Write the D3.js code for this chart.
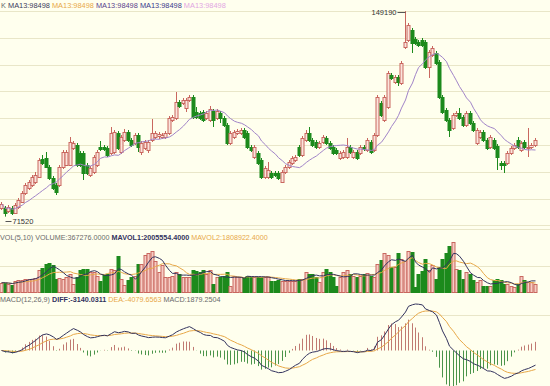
<!DOCTYPE html>
<html>
<head>
<meta charset="utf-8">
<script src="https://cdn.jsdelivr.net/npm/d3@7"></script>
<style>
body{margin:0;background:#ffffee;}
svg{display:block;font-family:"Liberation Sans",Arial,sans-serif;}
</style>
</head>
<body>
<div id="container"></div>
<script>
// price candles
const opens = [74780,74780,73640,74780,72890,75150,77040,80450,82340,83470,
 84600,86490,93300,93680,90270,86120,83470,83470,90270,91030,
 91030,97460,98590,95570,95570,91030,87250,88380,91030,97830,
 97830,97460,95570,95940,103130,95940,100480,103500,100480,99350,
 102370,95940,97460,96700,100480,101610,101990,101610,101610,103130,
 108040,108800,114840,114470,112580,115600,116730,111060,110690,111060,
 108800,108040,111440,108800,110690,108800,106150,99350,101610,103130,
 103130,104260,103130,97830,94050,95570,92920,86490,86490,88010,
 88010,88010,84600,88380,90270,91790,92920,97830,94810,100480,
 103130,100480,99720,97830,99720,101240,99350,97830,96700,93680,
 94050,94050,97830,94050,95940,95570,97830,96700,99720,96700,
 102370,114470,108040,112950,125050,122400,124290,122030,135630,138280,
 142060,138660,137520,138280,137520,128070,132610,133370,129960,116730,
 111820,108040,105020,109930,110690,109170,106150,110690,106910,99350,
 101610,103500,100480,97830,100480,98210,91790,91790,91790,95570,
 97460,100480,96700,99720,97460,97830,98590];
const highs = [77040,75530,75910,75530,76670,78560,81200,84230,85360,87250,
 88380,93680,94810,95940,91030,86870,84230,91030,96700,96700,
 101610,100100,99350,96320,96320,91790,90650,94810,96700,100100,
 98590,98210,105390,104260,103880,102370,104640,104260,101240,103130,
 103130,100100,100480,100480,108420,103880,103500,103130,103880,109550,
 109930,118620,115600,116360,116360,117490,117490,112950,111440,111820,
 111440,113330,112200,112200,111440,109550,106910,103880,104260,104640,
 105020,105020,103880,98590,98590,96320,93680,90650,92160,88760,
 88760,88760,89140,91030,92920,94430,94810,98590,101990,104260,
 105390,101240,100480,100100,102370,101990,100100,98590,97460,96320,
 96700,101240,98590,96700,96700,98590,98590,101240,100480,103130,
 117490,115220,117490,126560,125810,125050,125050,130340,149190,144710,
 142820,139410,138280,139040,138280,134500,136010,134120,130720,117490,
 112580,108800,110690,111440,112580,109930,111440,111440,107660,105020,
 104260,104260,101240,102370,101240,98970,92540,92540,96320,98210,
 99350,101610,100100,100480,105020,99350,101240];
const lows = [74020,71520,72890,72130,72510,74400,76670,79690,81580,82710,
 83850,86120,91030,89900,85360,81580,79690,82710,89520,90650,
 90650,96700,90270,90270,85360,87250,86490,87630,90270,96320,
 96320,94050,94810,95190,96700,95190,99720,99720,97830,98590,
 95940,94810,96700,95570,99720,100860,100860,100860,100860,102370,
 107280,108040,112580,113710,111060,114840,108420,108420,108040,107280,
 108040,107280,105390,108040,106910,105390,98590,98590,100860,102370,
 102370,100860,97080,95940,93300,91030,85740,85740,85740,85740,
 86490,85360,84230,87630,89520,91030,92160,94050,94050,99720,
 99720,97830,97080,97080,98970,98590,96700,94810,94810,92920,
 93300,93300,95190,93300,92920,94810,96320,95940,95190,95940,
 101610,109170,107280,112200,123160,121650,120890,121270,134880,137520,
 133370,136390,135630,135630,127320,123920,131850,128830,115980,110310,
 107280,101610,104260,109170,108040,105390,105390,106150,103500,98590,
 100860,99720,96700,97080,96700,89140,89140,88010,91030,94810,
 96700,97080,95940,97080,94050,97080,97830];
const closes = [76290,72890,75150,72890,75910,77800,80450,83470,84600,86490,
 87250,92920,91790,90270,86120,82340,80820,90270,95940,95940,
 99720,99350,91030,91030,88010,88010,89900,94050,95940,97080,
 97080,94810,103130,103500,97460,101610,103500,100480,98590,102370,
 97830,99350,99720,99720,103130,103130,102750,102370,103130,108800,
 109170,114840,113330,115600,115600,116730,109170,109170,108800,108040,
 110690,112200,108040,111440,108800,106150,99350,103130,103500,103880,
 104260,101610,97830,96700,97830,91790,86490,89900,89140,86490,
 87250,86120,88380,90270,92160,93680,94050,94810,101240,103130,
 100480,98590,97830,99350,101610,99350,97460,95570,95570,95570,
 95940,97830,95940,95940,93680,97830,97080,100480,95940,102370,
 116730,109930,116730,125810,123920,124290,122400,129590,137520,143950,
 137150,137150,136390,136390,128070,133740,135260,129590,116730,111060,
 108040,104260,109930,110690,108800,106150,110690,106910,104260,104260,
 103500,100480,97460,101610,97460,94050,91030,91030,95570,97460,
 98590,97830,99350,97830,97830,98590,100480];
// volume, millions of shares
const volumes = [1.8,1.8,1.6,1.4,2.2,2.4,2.3,2.5,2.6,2.6,
 2.8,4.2,4.6,5.4,5.6,5.2,2.6,2.8,2.5,3.0,
 3.5,1.6,3.0,4.2,4.5,4.4,3.8,3.8,3.2,2.2,
 3.3,3.5,4.5,4.2,7.0,2.6,1.3,2.4,3.0,3.2,
 5.5,5.5,7.2,7.5,8.0,6.0,3.9,5.2,2.9,2.9,
 3.2,3.9,3.5,2.9,2.9,2.9,4.2,4.0,3.9,4.2,
 3.5,4.2,1.5,2.9,2.9,3.2,3.9,1.2,3.2,3.0,
 2.9,3.0,3.2,2.9,2.9,2.9,3.0,2.9,2.9,2.2,
 2.2,2.3,2.2,2.2,2.2,2.1,2.2,2.5,2.6,3.9,
 3.5,3.5,2.9,1.9,3.9,4.5,3.9,2.9,1.2,2.9,
 3.8,4.2,3.5,3.2,2.9,3.2,3.5,3.6,3.2,3.0,
 5.5,6.2,7.5,7.2,4.9,4.9,7.5,6.5,6.0,8.0,
 7.7,1.0,3.5,4.0,6.5,4.2,5.2,2.5,4.9,6.5,
 7.5,8.9,9.7,4.5,4.2,2.5,3.9,3.5,2.3,1.9,
 2.3,1.2,1.2,1.2,2.3,2.5,2.3,1.5,1.5,1.2,
 0.9,1.5,3.2,2.3,1.9,1.9,1.5];

const maLabels = ["MA13:98498","MA13:98498","MA13:98498","MA13:98498","MA13:98498"];
const maColors = ["#3b3b5c","#e8a848","#5b3f8c","#3a3a8c","#e2a6e2"];
const volLabels = ["VOL(5,10) ","VOLUME:367276.0000 ","MAVOL1:2005554.4000 ","MAVOL2:1808922.4000"];
const macdLabels = ["MACD(12,26,9) ","DIFF:-3140.0311 ","DEA:-4079.6563 ","MACD:1879.2504"];
const maxLabel = "149190", minLabel = "71520";

const W = 550, H = 386;
const RED = "#c9675f", RED_FILL = "#fbe4dc", VOL_FILL = "#f6cdc4", GREEN = "#1c8a1c";
const NAVY = "#33335e", ORANGE = "#e8a848", GRAY = "#6a6a6a";

const svg = d3.select("#container").append("svg")
    .attr("width", W)
    .attr("height", H);
svg.append("rect").attr("width", W).attr("height", H).attr("fill", "#ffffee");

const n = closes.length;
const idx = d3.range(n);
const x = d3.scaleBand().domain(idx).range([0, 536]).paddingInner(0.25);
const cx = i => Math.round(x(i) + x.bandwidth() / 2) + 0.5;
const bw = Math.max(2, Math.round(x.bandwidth()));
const up = i => closes[i] >= opens[i];

const yPrice = d3.scaleLinear().domain([67972, 153400]).range([226, 0]);
const yVol = d3.scaleLinear().domain([0, 10]).range([292, 240.5]);

// grid lines
const grid = svg.append("g").attr("stroke", "#e9e6c8").attr("stroke-width", 1);
d3.range(9).forEach(k => {
    const gy = Math.round(11 + k * 26.8) + 0.5;
    grid.append("line").attr("x1", 0).attr("x2", W).attr("y1", gy).attr("y2", gy);
});
[229.5, 266.5, 315.5].forEach(gy => {
    grid.append("line").attr("x1", 0).attr("x2", W).attr("y1", gy).attr("y2", gy);
});

// candles
const gc = svg.append("g");
gc.selectAll("line").data(idx).join("line")
    .attr("x1", cx).attr("x2", cx)
    .attr("y1", i => yPrice(highs[i]))
    .attr("y2", i => yPrice(lows[i]))
    .attr("stroke", i => up(i) ? RED : GREEN);
gc.selectAll("rect").data(idx).join("rect")
    .attr("x", i => cx(i) - bw / 2)
    .attr("width", bw)
    .attr("y", i => Math.round(yPrice(Math.max(opens[i], closes[i]))) + 0.5)
    .attr("height", i => Math.max(1, Math.round(Math.abs(yPrice(opens[i]) - yPrice(closes[i])))))
    .attr("fill", i => up(i) ? RED_FILL : GREEN)
    .attr("stroke", i => up(i) ? RED : GREEN);

// moving averages
const sma = (arr, p) => arr.map((v, i) => d3.mean(arr.slice(Math.max(0, i - p + 1), i + 1)));
const ma13 = sma(closes, 13);
svg.append("path")
    .attr("d", d3.line().x((d, i) => cx(i)).y(d => yPrice(d))(ma13))
    .attr("fill", "none").attr("stroke", "#a184c8").attr("stroke-width", 1);

// high / low markers
const iMax = d3.maxIndex(highs), iMin = d3.minIndex(lows);
const yMax = Math.round(yPrice(highs[iMax])) + 1.5;
svg.append("line").attr("x1", cx(iMax) - 8).attr("x2", cx(iMax)).attr("y1", yMax).attr("y2", yMax).attr("stroke", "#555");
svg.append("text").attr("x", cx(iMax) - 9).attr("y", yMax + 2.5).attr("text-anchor", "end")
    .attr("font-size", 7.5).attr("fill", "#333").text(maxLabel);
const yMin = Math.round(yPrice(lows[iMin])) + 4.5;
svg.append("line").attr("x1", cx(iMin)).attr("x2", cx(iMin) + 6).attr("y1", yMin).attr("y2", yMin).attr("stroke", "#555");
svg.append("text").attr("x", cx(iMin) + 7).attr("y", yMin + 2.5)
    .attr("font-size", 7.5).attr("fill", "#333").text(minLabel);

// volume
const gv = svg.append("g");
gv.selectAll("rect").data(idx).join("rect")
    .attr("x", i => cx(i) - bw / 2)
    .attr("width", bw)
    .attr("y", i => Math.round(yVol(volumes[i])) + 0.5)
    .attr("height", i => 292 - Math.round(yVol(volumes[i])))
    .attr("fill", i => up(i) ? VOL_FILL : GREEN)
    .attr("stroke", i => up(i) ? RED : GREEN);
const mavol5 = sma(volumes, 5), mavol10 = sma(volumes, 10);
const volLine = d3.line().x((d, i) => cx(i)).y(d => yVol(d));
svg.append("path").attr("d", volLine(mavol10)).attr("fill", "none").attr("stroke", ORANGE).attr("stroke-width", 1);
svg.append("path").attr("d", volLine(mavol5)).attr("fill", "none").attr("stroke", NAVY).attr("stroke-width", 1);

// MACD
function ema(arr, p) {
    const k = 2 / (p + 1);
    let e = arr[0];
    return arr.map((v, i) => i === 0 ? e : (e = v * k + e * (1 - k)));
}
const e12 = ema(closes, 12), e26 = ema(closes, 26);
const diff = closes.map((c, i) => e12[i] - e26[i]);
const dea = ema(diff, 9);
const hist = diff.map((d, i) => 2 * (d - dea[i]));
const yMacd = d3.scaleLinear().domain([0, d3.max(diff)]).range([350.5, 304]);

svg.append("clipPath").attr("id", "macdClip")
    .append("rect").attr("x", 0).attr("y", 303).attr("width", W).attr("height", H - 303);
const gm = svg.append("g").attr("clip-path", "url(#macdClip)");
gm.selectAll("line").data(idx).join("line")
    .attr("x1", cx).attr("x2", cx)
    .attr("y1", yMacd(0))
    .attr("y2", i => yMacd(hist[i]))
    .attr("stroke", i => hist[i] >= 0 ? "#c07a72" : "#4a944a");
const macdLine = d3.line().x((d, i) => cx(i)).y(d => yMacd(d));
gm.append("path").attr("d", macdLine(dea)).attr("fill", "none").attr("stroke", ORANGE).attr("stroke-width", 1);
gm.append("path").attr("d", macdLine(diff)).attr("fill", "none").attr("stroke", NAVY).attr("stroke-width", 1);

// legends
const topText = svg.append("text").attr("x", 1).attr("y", 8).attr("font-size", 7.4);
topText.append("tspan").attr("fill", GRAY).text("K ");
maLabels.forEach((t, k) => topText.append("tspan").attr("fill", maColors[k]).text(t + " "));

const volText = svg.append("text").attr("x", 0).attr("y", 240).attr("font-size", 7.2);
const volColors = [GRAY, GRAY, NAVY, ORANGE];
volLabels.forEach((t, k) => volText.append("tspan").attr("fill", volColors[k])
    .attr("font-weight", k === 2 ? "bold" : null).text(t));

const macdText = svg.append("text").attr("x", 0).attr("y", 302).attr("font-size", 7.2);
const macdColors = [GRAY, NAVY, ORANGE, GRAY];
macdLabels.forEach((t, k) => macdText.append("tspan").attr("fill", macdColors[k])
    .attr("font-weight", k === 1 ? "bold" : null).text(t));
</script>
</body>
</html>
